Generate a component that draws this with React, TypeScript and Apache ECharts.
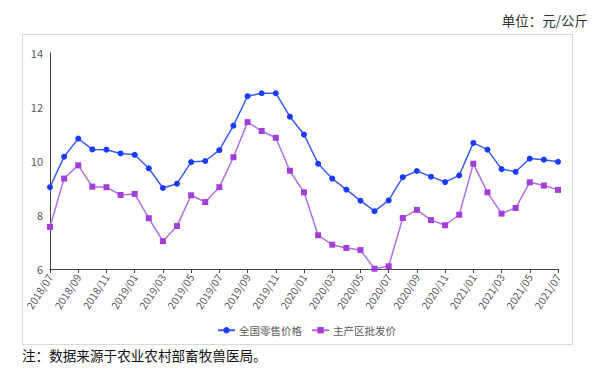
import React, { useEffect, useRef } from "react";
import * as echarts from "echarts";

const categories = [
  "2018/07", "2018/08", "2018/09", "2018/10", "2018/11", "2018/12",
  "2019/01", "2019/02", "2019/03", "2019/04", "2019/05", "2019/06",
  "2019/07", "2019/08", "2019/09", "2019/10", "2019/11", "2019/12",
  "2020/01", "2020/02", "2020/03", "2020/04", "2020/05", "2020/06",
  "2020/07", "2020/08", "2020/09", "2020/10", "2020/11", "2020/12",
  "2021/01", "2021/02", "2021/03", "2021/04", "2021/05", "2021/06",
  "2021/07",
];

const retailPrice = [
  9.03, 10.16, 10.83, 10.43, 10.42, 10.28, 10.23, 9.73, 9.0, 9.16,
  9.96, 10.0, 10.4, 11.31, 12.4, 12.51, 12.51, 11.64, 10.98, 9.9,
  9.35, 8.94, 8.53, 8.14, 8.54, 9.4, 9.63, 9.42, 9.22, 9.47,
  10.67, 10.42, 9.7, 9.6, 10.09, 10.05, 9.97,
];

const wholesalePrice = [
  7.56, 9.35, 9.84, 9.05, 9.03, 8.74, 8.78, 7.88, 7.03, 7.59,
  8.73, 8.48, 9.03, 10.14, 11.44, 11.11, 10.86, 9.64, 8.84, 7.25,
  6.9, 6.78, 6.7, 6.01, 6.1, 7.89, 8.19, 7.81, 7.62, 8.01,
  9.9, 8.84, 8.05, 8.26, 9.21, 9.09, 8.93,
];

const seriesNames = ["全国零售价格", "主产区批发价"];
const unitText = "单位：元/公斤";
const noteText = "注：数据来源于农业农村部畜牧兽医局。";

export default function App() {
  const ref = useRef<HTMLDivElement>(null);
  useEffect(() => {
    if (!ref.current) return;
    const chart = echarts.init(ref.current, null, { renderer: "svg" });
    chart.setOption({
      animation: false,
      backgroundColor: "#ffffff",
      textStyle: { fontFamily: "'Noto Sans CJK SC', 'Noto Sans', sans-serif" },
      grid: { left: 50, right: 48, top: 53, bottom: 103, containLabel: false },
      graphic: [
        {
          type: "rect",
          shape: { x: 22.5, y: 34.5, width: 550, height: 310 },
          style: { fill: "none", stroke: "#d9d9d9", lineWidth: 1 },
          silent: true,
        },
        {
          type: "text",
          right: 606 - 588,
          top: 13,
          style: {
            text: unitText,
            fontSize: 13.5,
            fill: "#333333",
            fontFamily: "'Noto Sans CJK SC', sans-serif",
          },
        },
        {
          type: "text",
          left: 22,
          top: 348,
          style: {
            text: noteText,
            fontSize: 13.6,
            fill: "#111111",
            fontFamily: "'Noto Sans CJK SC', sans-serif",
          },
        },
      ],
      legend: {
        data: seriesNames,
        left: 212,
        top: 320,
        itemWidth: 17,
        itemHeight: 8,
        itemGap: 9,
        textStyle: { fontSize: 10.5, color: "#595959", padding: [0, 0, 0, -1] },
      },
      xAxis: {
        type: "category",
        data: categories,
        boundaryGap: false,
        axisLine: { lineStyle: { color: "#404040", width: 1 } },
        axisTick: { show: true, interval: 1, length: 4, lineStyle: { color: "#404040" } },
        axisLabel: { interval: 1, rotate: 57, fontSize: 10.5, color: "#595959", margin: 6 },
      },
      yAxis: {
        type: "value",
        min: 6,
        max: 14,
        interval: 2,
        splitLine: { show: false },
        axisLine: { show: true, lineStyle: { color: "#404040", width: 1 } },
        axisTick: { show: false },
        axisLabel: { fontSize: 11, color: "#595959", margin: 7 },
      },
      series: [
        {
          name: seriesNames[0],
          type: "line",
          data: retailPrice,
          symbol: "circle",
          symbolSize: 6,
          lineStyle: { color: "#3a5cf5", width: 1.5 },
          itemStyle: { color: "#1a3cff" },
        },
        {
          name: seriesNames[1],
          type: "line",
          data: wholesalePrice,
          symbol: "rect",
          symbolSize: 6,
          lineStyle: { color: "#b36fe3", width: 1.5 },
          itemStyle: { color: "#a23fd9" },
        },
      ],
    });
    return () => chart.dispose();
  }, []);
  return <div ref={ref} style={{ width: 606, height: 372, margin: -8 }} />;
}
